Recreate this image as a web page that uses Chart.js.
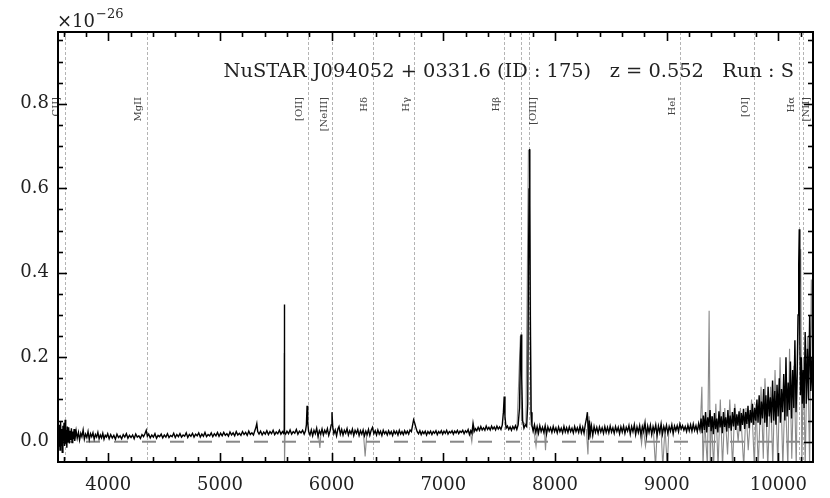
<!DOCTYPE html>
<html>
<head>
<meta charset="utf-8">
<script src="https://cdn.jsdelivr.net/npm/chart.js@4.4.1/dist/chart.umd.min.js"></script>
<style>
  html, body { margin: 0; padding: 0; background: #fff; }
  #wrap { width: 830px; height: 498px; }
</style>
</head>
<body>
<div id="wrap"><canvas id="spec" width="830" height="498"></canvas></div>
<script>
// Spectrum of NuSTAR J094052+0331.6; axis flux in units of 1e-26,
// the arrays below store flux in thousandths of that unit

const titleText = 'NuSTAR J094052 + 0331.6 (ID : 175)   z = 0.552   Run : S';
const xMin = 3550, xMax = 10310;
const yMin = -0.048, yMax = 0.97;
const xTicks = [4000, 5000, 6000, 7000, 8000, 9000, 10000];
const yTicks = [0.0, 0.2, 0.4, 0.6, 0.8];
const xMinorStep = 200;
const yMinorStep = 0.05;

// emission lines (observed wavelength) and their labels
const lineNames = ['CII]', 'MgII', '[OII]', '[NeIII]', 'Hδ', 'Hγ', 'Hβ', '', '[OIII]', 'HeI', '[OI]', 'Hα', '[NII]'];
const lineWaves = [3610, 4343, 5784, 6005, 6366, 6737, 7545, 7696, 7771, 9119, 9778, 10186, 10217];

// main (black) spectrum: [wavelength, flux x1000]
const blackSpectrum = [
  [3552,22],[3558,-12],[3563,40],[3568,-20],[3573,48],[3578,-8],[3583,30],[3588,-25],[3594,38],[3599,2],
  [3604,45],[3609,-10],[3614,52],[3619,-5],[3624,28],[3629,-14],[3634,36],[3640,0],[3646,34],[3652,-4],
  [3658,26],[3664,4],[3670,32],[3676,-2],[3682,24],[3688,6],[3694,30],[3700,2],
  [3712,26],[3722,8],[3733,22],[3743,4],[3754,20],[3764,12],[3775,28],[3786,6],[3797,18],[3808,10],
  [3819,24],[3830,5],[3841,19],[3852,12],[3863,21],[3874,6],[3885,17],[3896,11],[3907,22],[3918,7],
  [3929,16],[3940,9],[3951,20],[3962,6],[3973,15],[3984,11],[3995,19],
  [4008,7],[4022,17],[4036,9],[4050,15],[4064,6],[4078,18],[4092,10],[4106,14],[4120,7],[4134,17],
  [4148,11],[4162,19],[4176,8],[4190,15],[4204,10],[4218,16],[4232,7],[4246,18],[4260,11],[4274,14],
  [4288,8],[4302,17],[4316,12],[4330,20],[4340,27],[4350,13],[4362,18],[4376,9],[4390,16],[4404,11],
  [4418,19],[4432,8],[4446,15],[4460,12],[4474,18],[4488,9],[4502,16],[4516,11],[4530,19],[4544,10],
  [4558,15],[4572,12],[4586,20],[4600,10],[4614,17],[4628,12],[4642,19],[4656,11],[4670,16],[4684,13],
  [4698,21],[4712,10],[4726,17],[4740,13],[4754,20],[4768,11],[4782,18],[4796,14],[4810,21],[4824,11],
  [4838,18],[4852,13],[4866,22],[4880,12],[4894,17],[4908,14],[4922,21],[4936,12],[4950,19],[4964,14],
  [4978,22],[4992,13],
  [5006,20],[5020,14],[5034,22],[5048,15],[5062,19],[5076,13],[5090,23],[5104,16],[5118,21],[5132,14],
  [5146,24],[5160,16],[5174,20],[5188,15],[5202,24],[5216,17],[5230,22],[5244,15],[5258,25],[5272,17],
  [5286,21],[5300,16],[5312,26],[5322,34],[5330,43],[5338,24],[5350,18],[5364,25],[5378,16],[5392,23],
  [5406,18],[5420,26],[5434,17],[5448,24],[5462,19],[5476,27],[5490,17],[5504,23],[5518,19],[5532,27],
  [5546,18],[5560,24],[5570,20],[5575,26],[5577,325],[5579,22],[5588,18],[5600,25],[5614,19],[5628,28],
  [5642,18],[5656,24],[5670,20],[5684,29],[5698,18],[5712,25],[5726,21],[5740,27],[5754,18],[5766,26],
  [5774,40],[5780,85],[5786,45],[5794,24],[5806,16],[5818,28],[5830,14],[5842,27],[5854,19],[5866,32],
  [5878,13],[5890,26],[5902,18],[5914,30],[5926,16],[5938,27],[5950,20],[5962,31],[5974,15],[5986,26],
  [5996,40],[6003,70],[6010,35],[6020,19],[6032,28],[6044,14],[6056,30],[6066,36],[6078,18],[6090,29],
  [6102,16],[6114,27],[6126,20],[6138,31],[6150,16],[6162,26],[6174,19],[6186,30],[6198,15],[6210,27],
  [6222,20],[6234,29],[6246,15],[6258,26],[6270,18],[6282,28],[6294,14],[6306,25],[6318,17],[6330,29],
  [6342,15],[6354,27],[6366,34],[6378,19],[6390,26],[6402,16],[6414,28],[6426,18],[6438,25],[6450,15],
  [6462,27],[6474,19],[6486,24],[6498,16],[6510,26],[6522,18],[6534,24],[6546,15],[6558,26],[6570,19],
  [6582,25],[6594,16],[6606,27],[6618,18],[6630,24],[6642,17],[6654,26],[6666,19],[6678,25],[6690,18],
  [6702,28],[6714,24],[6724,38],[6734,52],[6744,44],[6754,34],[6766,24],[6778,19],[6790,26],[6802,17],
  [6814,24],[6826,19],[6838,25],[6850,16],[6862,24],[6874,19],[6886,25],[6898,17],[6910,24],[6922,20],
  [6934,26],[6946,17],[6958,24],[6970,20],[6982,26],[6994,18],[7006,25],[7018,20],[7030,27],[7042,18],
  [7054,24],[7066,21],[7078,26],[7090,18],[7102,25],[7114,21],[7126,27],[7138,19],[7150,25],[7162,22],
  [7174,27],[7186,19],[7198,26],[7210,22],[7222,29],[7234,17],[7246,26],[7256,20],[7266,43],[7276,24],
  [7288,31],[7300,26],[7312,34],[7324,27],[7336,36],[7348,28],[7360,33],[7372,27],[7384,37],[7396,29],
  [7408,34],[7420,28],[7432,37],[7444,30],[7456,35],[7468,28],[7480,37],[7492,30],[7504,35],[7516,29],
  [7528,40],[7538,70],[7545,107],[7552,60],[7562,32],[7574,37],[7586,29],[7598,35],[7610,27],[7622,36],
  [7634,30],[7646,38],[7658,29],[7670,40],[7682,80],[7690,200],[7696,254],[7702,150],[7710,50],[7722,32],
  [7734,40],[7746,36],[7756,90],[7762,400],[7768,600],[7771,693],[7775,560],[7780,250],[7786,70],[7794,38],
  [7804,25],[7816,40],[7828,22],[7840,36],[7852,20],[7864,38],[7876,24],[7888,34],[7900,22],[7912,38],
  [7924,18],[7936,35],[7948,25],[7960,33],[7972,22],[7984,36],[7996,24],[8008,33],[8020,21],[8032,35],
  [8044,24],[8056,32],[8068,21],[8080,36],[8092,23],[8104,33],[8116,22],[8128,35],[8140,24],[8152,32],
  [8164,21],[8176,36],[8188,24],[8200,33],[8212,22],[8224,37],[8236,21],[8248,34],[8260,20],[8272,42],
  [8282,55],[8290,70],[8296,30],[8302,5],[8308,50],[8316,20],[8326,38],[8338,15],[8350,36],[8362,22],
  [8374,34],[8386,20],[8398,35],[8410,23],[8422,33],[8434,20],[8446,36],[8458,22],[8470,34],[8482,21],
  [8494,37],[8506,23],[8518,33],[8530,20],[8542,36],[8554,24],[8566,34],[8578,19],[8590,35],[8602,23],
  [8614,37],[8626,20],[8638,34],[8650,25],[8662,38],[8674,18],[8686,36],[8698,24],[8710,40],[8722,17],
  [8734,35],[8746,22],[8758,38],[8770,16],[8782,36],[8794,24],[8806,45],[8818,14],[8830,37],[8842,22],
  [8854,39],[8866,17],[8878,36],[8890,24],[8902,40],[8914,15],[8926,37],[8938,22],[8950,42],[8962,18],
  [8974,36],[8986,24],[8998,39],[9010,20],[9022,36],[9034,25],[9046,40],[9058,19],[9070,37],[9082,26],
  [9094,38],[9106,24],[9118,42],[9130,30],[9142,38],[9154,27],[9166,36],[9178,24],[9190,39],[9202,26],
  [9214,40],[9226,25],[9238,42],[9250,27],[9262,38],[9274,24],[9286,43],[9298,28],
  [9308,55],[9318,20],[9328,62],[9338,28],[9348,70],[9358,22],[9368,58],[9378,35],[9388,75],[9398,25],
  [9408,60],[9418,18],[9428,68],[9438,30],[9448,55],[9458,22],[9468,72],[9478,34],[9488,60],[9498,20],
  [9508,70],[9518,35],[9528,58],[9538,24],[9548,75],[9558,32],[9568,62],[9578,26],[9588,70],[9598,36],
  [9608,80],[9618,28],[9628,65],[9638,38],[9648,72],[9658,25],[9668,68],[9678,40],[9688,78],[9698,30],
  [9708,70],[9718,42],[9728,85],[9738,32],[9748,75],[9758,45],[9768,90],[9778,40],[9788,80],[9798,50],
  [9808,100],[9818,45],[9828,110],[9838,40],[9848,95],[9858,55],[9868,125],[9878,45],[9888,110],[9898,35],
  [9908,130],[9918,60],[9928,105],[9938,45],[9948,145],[9958,50],[9968,120],[9978,40],[9988,135],[9998,60],
  [10008,150],[10018,45],[10028,125],[10038,70],[10048,160],[10058,50],[10068,200],[10078,60],[10088,140],[10098,75],
  [10108,190],[10118,55],[10128,170],[10138,80],[10148,240],[10158,70],[10168,160],[10176,300],[10182,420],[10187,503],
  [10192,240],[10198,110],[10206,200],[10214,90],[10222,170],[10230,80],[10240,260],[10250,90],[10260,220],[10270,100],
  [10280,300],[10290,120],[10300,200],[10308,110]
];

// raw (grey) spectrum where it departs from the black one; null flux breaks the line
const greySpectrum = [
  [5572,20],[5576,210],[5578,-60],[5583,20],[5584,null],
  [5880,20],[5895,-15],[5905,25],[5906,null],
  [6285,20],[6300,-35],[6315,20],[6316,null],
  [7240,25],[7255,0],[7270,40],[7285,25],[7286,null],
  [7660,35],[7690,250],[7700,50],[7740,40],[7762,690],[7776,690],[7785,40],[7810,30],
  [7830,-10],[7845,30],[7905,30],[7915,-20],[7925,30],[7926,null],
  [8280,30],[8295,-30],[8305,60],[8320,10],[8321,null],
  [8700,30],[8760,30],[8775,-5],[8790,35],[8810,-10],[8830,30],[8880,30],[8900,-60],
  [8915,30],[8950,30],[8965,-60],[8985,35],[9005,-60],[9020,30],[9100,35],[9260,30],
  [9300,30],[9315,130],[9325,-60],[9340,50],[9365,-60],[9380,310],[9390,-60],[9400,60],
  [9420,-60],[9440,90],[9460,-60],[9480,100],[9500,-60],[9520,80],[9545,-30],[9565,100],
  [9590,-60],[9610,90],[9640,0],[9660,80],[9690,-60],[9710,80],[9730,-20],[9760,100],
  [9785,-60],[9800,90],[9820,-60],[9845,130],[9865,-40],[9880,150],[9905,-60],[9930,130],
  [9950,-60],[9970,170],[9995,-60],[10015,200],[10040,-60],[10060,130],[10085,-60],[10100,220],
  [10120,-40],[10140,180],[10160,-60],[10175,250],[10200,456],[10210,-60],[10225,200],[10240,-60],
  [10260,250],[10280,-60],[10295,384],[10310,100]
];

const SERIF = '"DejaVu Serif", "Liberation Serif", serif';
const toXY = rows => rows.map(r => ({ x: r[0], y: r[1] === null ? null : r[1] / 1000 }));

// label offsets (pixels) from the dashed line to the label centre
const labelShift = { '[OIII]': 4, '[NII]': 4 };

const decorPlugin = {
    id: 'decor',
    beforeDatasetsDraw(chart) {
        const { ctx, chartArea: a, scales: { x } } = chart;
        ctx.save();
        ctx.beginPath();
        ctx.rect(a.left, a.top, a.right - a.left, a.bottom - a.top);
        ctx.clip();
        ctx.strokeStyle = '#b4b4b4';
        ctx.lineWidth = 1;
        ctx.setLineDash([3, 2]);
        lineWaves.forEach(w => {
            const px = Math.round(x.getPixelForValue(w)) + 0.5;
            ctx.beginPath();
            ctx.moveTo(px, a.top);
            ctx.lineTo(px, a.bottom);
            ctx.stroke();
        });
        ctx.restore();
    },
    afterDatasetsDraw(chart) {
        const { ctx, chartArea: a, scales: { x, y } } = chart;
        ctx.save();
        // line labels
        ctx.fillStyle = '#444';
        ctx.font = '10px ' + SERIF;
        ctx.textAlign = 'right';
        ctx.textBaseline = 'middle';
        lineNames.forEach((name, i) => {
            if (!name) return;
            const shift = labelShift[name] !== undefined ? labelShift[name] : -8;
            const px = x.getPixelForValue(lineWaves[i]) + shift;
            ctx.save();
            ctx.translate(px, 97);
            ctx.rotate(-Math.PI / 2);
            ctx.fillText(name, 0, 0);
            ctx.restore();
        });

        // frame
        ctx.strokeStyle = '#000';
        ctx.lineWidth = 2;
        ctx.strokeRect(a.left, a.top, a.right - a.left, a.bottom - a.top);

        // inward ticks on all four sides
        ctx.lineWidth = 1.6;
        const tick = (x0, y0, x1, y1) => { ctx.beginPath(); ctx.moveTo(x0, y0); ctx.lineTo(x1, y1); ctx.stroke(); };
        for (let v = 3600; v <= xMax; v += xMinorStep) {
            const px = Math.round(x.getPixelForValue(v)) + 0.5;
            const len = xTicks.includes(v) ? 9 : 5;
            tick(px, a.bottom, px, a.bottom - len);
            tick(px, a.top, px, a.top + len);
        }
        for (let k = 0; k * yMinorStep <= yMax; k++) {
            const v = k * yMinorStep;
            const py = Math.round(y.getPixelForValue(v)) + 0.5;
            const len = k % 4 === 0 ? 9 : 5;
            tick(a.left, py, a.left + len, py);
            tick(a.right, py, a.right - len, py);
        }

        // title
        ctx.fillStyle = '#222';
        ctx.textBaseline = 'alphabetic';
        ctx.textAlign = 'left';
        ctx.font = '17px ' + SERIF;
        const w = ctx.measureText(titleText).width;
        const size = 17 * 571 / w;
        ctx.font = size.toFixed(2) + 'px ' + SERIF;
        ctx.textAlign = 'right';
        ctx.fillText(titleText, 794, 77);

        // offset text
        ctx.textAlign = 'left';
        ctx.font = '18px ' + SERIF;
        ctx.fillText('×10', 57, 27);
        const w10 = ctx.measureText('×10').width;
        ctx.font = '13px ' + SERIF;
        ctx.fillText('−26', 57 + w10 + 1, 18);
        ctx.restore();
    }
};

new Chart(document.getElementById('spec'), {
    type: 'line',
    data: {
        datasets: [
            {
                data: toXY(blackSpectrum),
                borderColor: '#000',
                borderWidth: 1.4,
                pointRadius: 0,
                order: 0
            },
            {
                data: toXY(greySpectrum),
                borderColor: '#8a8a8a',
                borderWidth: 1.1,
                pointRadius: 0,
                spanGaps: false,
                order: 1
            },
            {
                data: [{ x: xMin, y: 0 }, { x: xMax, y: 0 }],
                borderColor: '#888',
                borderWidth: 2,
                borderDash: [14, 14],
                pointRadius: 0,
                order: 2
            }
        ]
    },
    options: {
        responsive: false,
        animation: false,
        devicePixelRatio: 1,
        layout: { padding: { top: 32, right: 17, left: 0, bottom: 0 } },
        plugins: { legend: { display: false }, tooltip: { enabled: false } },
        elements: { line: { tension: 0 } },
        scales: {
            x: {
                type: 'linear',
                min: xMin,
                max: xMax,
                grid: { display: false },
                border: { display: false },
                afterBuildTicks: s => { s.ticks = xTicks.map(v => ({ value: v })); },
                afterFit: s => { s.height = 36; },
                ticks: {
                    autoSkip: false,
                    maxRotation: 0,
                    padding: 5,
                    color: '#222',
                    font: { family: SERIF, size: 18 },
                    callback: v => String(v)
                }
            },
            y: {
                type: 'linear',
                min: yMin,
                max: yMax,
                grid: { display: false },
                border: { display: false },
                afterBuildTicks: s => { s.ticks = yTicks.map(v => ({ value: v })); },
                afterFit: s => { s.width = 58; },
                ticks: {
                    autoSkip: false,
                    padding: 1,
                    color: '#222',
                    font: { family: SERIF, size: 18 },
                    callback: v => v.toFixed(1)
                }
            }
        }
    },
    plugins: [decorPlugin]
});
</script>
</body>
</html>
